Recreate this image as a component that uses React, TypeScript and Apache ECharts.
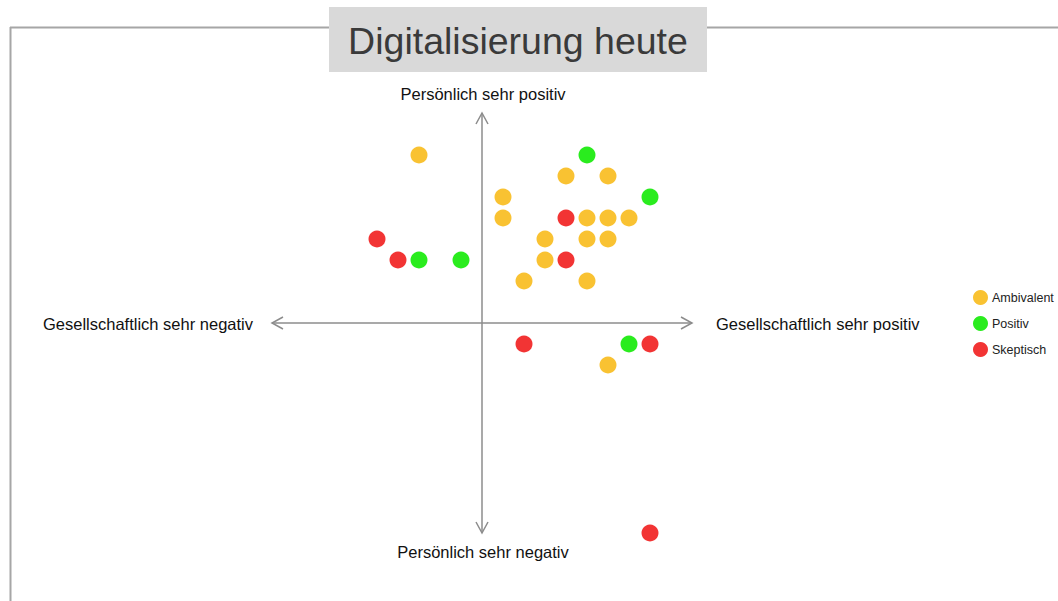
import React, { useEffect, useRef } from "react";
import * as echarts from "echarts";

const seriesNames = ["Ambivalent", "Positiv", "Skeptisch"];
const seriesColors = ["#f9c232", "#2aec1e", "#f23434"];

const ambivalent: [number, number][] = [
  [-3, 8], [4, 7], [6, 7], [1, 6], [1, 5], [5, 5], [6, 5], [7, 5],
  [3, 4], [5, 4], [6, 4], [3, 3], [2, 2], [5, 2], [6, -2],
];
const positiv: [number, number][] = [
  [5, 8], [8, 6], [-3, 3], [-1, 3], [7, -1],
];
const skeptisch: [number, number][] = [
  [4, 5], [-5, 4], [-4, 3], [4, 3], [2, -1], [8, -1], [8, -10],
];

const axisMin = -10;
const axisMax = 10;

const title = "Digitalisierung heute";
const labelLeft = "Gesellschaftlich sehr negativ";
const labelRight = "Gesellschaftlich sehr positiv";
const labelTop = "Persönlich sehr positiv";
const labelBottom = "Persönlich sehr negativ";

export default function App() {
  const ref = useRef<HTMLDivElement>(null);
  useEffect(() => {
    if (!ref.current) return;
    const chart = echarts.init(ref.current, undefined, { renderer: "svg" });
    const axisColor = "#8c8c8c";
    const font = "Arial, 'Liberation Sans', sans-serif";
    const option: any = {
      animation: false,
      backgroundColor: "#ffffff",
      grid: { left: 272, top: 113, width: 420, height: 420 },
      xAxis: {
        type: "value", min: axisMin, max: axisMax, show: false,
      },
      yAxis: {
        type: "value", min: axisMin, max: axisMax, show: false,
      },
      legend: {
        data: seriesNames,
        orient: "vertical",
        left: 968,
        top: 285,
        icon: "circle",
        itemWidth: 15,
        itemHeight: 15,
        itemGap: 11,
        textStyle: { fontSize: 12.5, color: "#222", fontFamily: font, padding: [0, 0, 0, -1] },
      },
      graphic: [
        { type: "line", shape: { x1: 10, y1: 27.5, x2: 1058, y2: 27.5 }, style: { stroke: "#a6a6a6", lineWidth: 2 } },
        { type: "line", shape: { x1: 10.5, y1: 27, x2: 10.5, y2: 601 }, style: { stroke: "#a6a6a6", lineWidth: 2 } },
        { type: "rect", shape: { x: 329, y: 7, width: 378, height: 65 }, style: { fill: "#d9d9d9" } },
        {
          type: "text", x: 518, y: 41,
          style: { text: title, fill: "#3a3a3a", fontSize: 37.5, fontFamily: font, align: "center", verticalAlign: "middle" },
        },
      ],
      series: [
        {
          type: "custom",
          name: "axes",
          silent: true,
          clip: false,
          z: 1,
          data: [[0, 0]],
          renderItem: (params: any, api: any) => {
            const l = api.coord([axisMin, 0]);
            const r = api.coord([axisMax, 0]);
            const t = api.coord([0, axisMax]);
            const b = api.coord([0, axisMin]);
            const ls = { stroke: axisColor, lineWidth: 1.5, fill: "none" };
            const a = 11, h = 6;
            const ts = { fill: "#111", fontSize: 16.5, fontFamily: font };
            return {
              type: "group",
              children: [
                { type: "line", shape: { x1: l[0], y1: l[1], x2: r[0], y2: r[1] }, style: ls },
                { type: "line", shape: { x1: t[0], y1: t[1], x2: b[0], y2: b[1] }, style: ls },
                { type: "polyline", shape: { points: [[l[0] + a, l[1] - h], [l[0], l[1]], [l[0] + a, l[1] + h]] }, style: ls },
                { type: "polyline", shape: { points: [[r[0] - a, r[1] - h], [r[0], r[1]], [r[0] - a, r[1] + h]] }, style: ls },
                { type: "polyline", shape: { points: [[t[0] - h, t[1] + a], [t[0], t[1]], [t[0] + h, t[1] + a]] }, style: ls },
                { type: "polyline", shape: { points: [[b[0] - h, b[1] - a], [b[0], b[1]], [b[0] + h, b[1] - a]] }, style: ls },
                { type: "text", x: l[0] - 19, y: l[1] + 1, style: { ...ts, text: labelLeft, align: "right", verticalAlign: "middle" } },
                { type: "text", x: r[0] + 24, y: r[1] + 1, style: { ...ts, text: labelRight, align: "left", verticalAlign: "middle" } },
                { type: "text", x: t[0] + 1, y: t[1] - 19, style: { ...ts, text: labelTop, align: "center", verticalAlign: "middle" } },
                { type: "text", x: b[0] + 1, y: b[1] + 19, style: { ...ts, text: labelBottom, align: "center", verticalAlign: "middle" } },
              ],
            };
          },
        },
        ...[ambivalent, positiv, skeptisch].map((d, i) => ({
          type: "scatter",
          name: seriesNames[i],
          data: d,
          symbolSize: 17,
          z: 3,
          itemStyle: { color: seriesColors[i], opacity: 1 },
        })),
      ],
    };
    chart.setOption(option);
    return () => chart.dispose();
  }, []);
  return (
    <div
      ref={ref}
      style={{ position: "absolute", left: 0, top: 0, width: 1058, height: 601 }}
    />
  );
}
